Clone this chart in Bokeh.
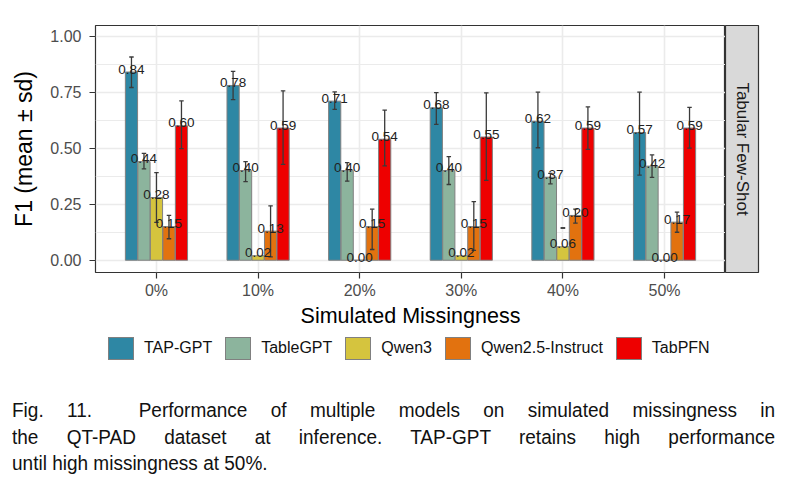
import math
from bokeh.plotting import figure
from bokeh.models import (ColumnDataSource, Range1d, FixedTicker, PrintfTickFormatter, Div)
from bokeh.layouts import column, row
from bokeh.core.properties import value
from bokeh.embed import file_html
from bokeh.resources import INLINE

# ---------------- data ----------------
missingness = ["0%", "10%", "20%", "30%", "40%", "50%"]
models = ["TAP-GPT", "TableGPT", "Qwen3", "Qwen2.5-Instruct", "TabPFN"]

tap_gpt = [0.84, 0.78, 0.71, 0.68, 0.62, 0.57]
table_gpt = [0.44, 0.40, 0.40, 0.40, 0.37, 0.42]
qwen3 = [0.28, 0.02, 0.00, 0.02, 0.06, 0.00]
qwen25 = [0.15, 0.13, 0.15, 0.15, 0.20, 0.17]
tabpfn = [0.60, 0.59, 0.54, 0.55, 0.59, 0.59]

tap_gpt_lo = [0.771, 0.717, 0.673, 0.606, 0.502, 0.380]
tap_gpt_hi = [0.907, 0.843, 0.751, 0.748, 0.750, 0.750]
table_gpt_lo = [0.408, 0.351, 0.353, 0.338, 0.341, 0.370]
table_gpt_hi = [0.477, 0.440, 0.436, 0.462, 0.388, 0.470]
qwen3_lo = [0.169, None, None, None, 0.144, None]
qwen3_hi = [0.391, None, None, None, 0.144, None]
qwen25_lo = [0.096, 0.015, 0.048, 0.044, 0.166, 0.125]
qwen25_hi = [0.200, 0.243, 0.228, 0.262, 0.228, 0.215]
tabpfn_lo = [0.498, 0.428, 0.421, 0.356, 0.495, 0.500]
tabpfn_hi = [0.711, 0.756, 0.670, 0.747, 0.684, 0.682]

y_ticks = [0.00, 0.25, 0.50, 0.75, 1.00]
y_minor = [0.125, 0.375, 0.625, 0.875]
strip_label = "Tabular Few-Shot"
x_title = "Simulated Missingness"
y_title = "F1 (mean \u00b1 sd)"
caption_lines = [
    "Fig. 11.&nbsp; Performance of multiple models on simulated missingness in",
    "the QT-PAD dataset at inference. TAP-GPT retains high performance",
    "until high missingness at 50%.",
]

colors = ["#2E87A4", "#8CB49D", "#D5C43E", "#E2720F", "#EE0000"]
means = [tap_gpt, table_gpt, qwen3, qwen25, tabpfn]
lows = [tap_gpt_lo, table_gpt_lo, qwen3_lo, qwen25_lo, tabpfn_lo]
highs = [tap_gpt_hi, table_gpt_hi, qwen3_hi, qwen25_hi, tabpfn_hi]

FONT = "Liberation Sans"

# ---------------- main panel ----------------
n = len(missingness)
y_start, y_end = -0.0547, 1.0476
H = 330
TOP, BOTTOM = 25, 57

p = figure(width=725, height=H,
           min_border_left=95, min_border_right=0, min_border_top=TOP, min_border_bottom=BOTTOM,
           x_range=Range1d(-0.6, n - 1 + 0.6), y_range=Range1d(y_start, y_end),
           output_backend="svg", toolbar_location=None)
p.background_fill_color = "white"
p.border_fill_color = "white"
p.outline_line_color = "#333333"
p.outline_line_width = 1.2

p.xgrid.grid_line_color = "#EBEBEB"
p.xgrid.grid_line_width = 1.6
p.ygrid.grid_line_color = "#EBEBEB"
p.ygrid.grid_line_width = 1.6
p.ygrid.minor_grid_line_color = "#EBEBEB"
p.ygrid.minor_grid_line_width = 1.0

idx = list(range(n))
p.xaxis.ticker = FixedTicker(ticks=idx)
p.xaxis.major_label_overrides = {i: lab for i, lab in zip(idx, missingness)}
p.yaxis.ticker = FixedTicker(ticks=y_ticks, minor_ticks=y_minor)
p.yaxis.formatter = PrintfTickFormatter(format="%.2f")
p.xaxis.axis_label = x_title
p.yaxis.axis_label = y_title
for ax in (p.xaxis[0], p.yaxis[0]):
    ax.axis_line_color = None
    ax.major_tick_line_color = "#333333"
    ax.major_tick_line_width = 1.2
    ax.major_tick_out = 6
    ax.major_tick_in = 0
    ax.minor_tick_line_color = None
    ax.major_label_text_font = FONT
    ax.major_label_text_font_size = "16px"
    ax.major_label_text_color = "#4D4D4D"
    ax.axis_label_text_font = FONT
    ax.axis_label_text_font_style = "normal"
    ax.axis_label_text_color = "#000000"
p.xaxis.axis_label_text_font_size = "21.5px"
p.yaxis.axis_label_text_font_size = "23px"
p.xaxis.major_label_standoff = 3
p.yaxis.major_label_standoff = 8
p.xaxis.axis_label_standoff = 2
p.yaxis.axis_label_standoff = 10

step = 0.123
bar_w = 0.12
cap_half = 0.022
bar_sources = []
err_sources = []
for k, (name, col, m, lo, hi) in enumerate(zip(models, colors, means, lows, highs)):
    off = (k - 2) * step
    xs = [i + off for i in idx]
    src = ColumnDataSource(dict(x=xs, top=m, lab=["%.2f" % v for v in m]))
    p.vbar(x="x", top="top", bottom=0, width=bar_w, source=src,
           fill_color=col, line_color="#808080", line_width=1)
    bar_sources.append(src)
    ex = [x for x, a in zip(xs, lo) if a is not None]
    el = [a for a in lo if a is not None]
    eh = [b for b in hi if b is not None]
    err_sources.append(ColumnDataSource(dict(
        x=ex, lower=el, upper=eh,
        xl=[x - cap_half for x in ex], xr=[x + cap_half for x in ex])))

for es in err_sources:
    kw = dict(source=es, line_color="#3A3A3A", line_width=1.3)
    p.segment(x0="x", y0="lower", x1="x", y1="upper", **kw)
    p.segment(x0="xl", y0="upper", x1="xr", y1="upper", **kw)
    p.segment(x0="xl", y0="lower", x1="xr", y1="lower", **kw)

for src in bar_sources:
    p.text(x="x", y="top", text="lab", source=src, y_offset=-3,
           text_align="center", text_baseline="alphabetic",
           text_font=value(FONT), text_font_size="13.5px", text_color="#222222")

# ---------------- facet strip ----------------
s = figure(width=60, height=H, min_border_left=0, min_border_right=27,
           min_border_top=TOP, min_border_bottom=BOTTOM,
           x_range=Range1d(0, 1), y_range=Range1d(0, 1),
           x_axis_type=None, y_axis_type=None,
           output_backend="svg", toolbar_location=None)
s.grid.visible = False
s.background_fill_color = "#D9D9D9"
s.border_fill_color = "white"
s.outline_line_color = "#333333"
s.outline_line_width = 1.2
s.text(x=[0.5], y=[0.5], text=[strip_label], angle=-math.pi / 2,
       text_align="center", text_baseline="middle",
       text_font=value(FONT), text_font_size="17px", text_color="#1A1A1A")

# ---------------- legend (HTML row under the axis title) ----------------
items_html = ""
for k, (name, col) in enumerate(zip(models, colors)):
    gap = "0" if k == 0 else "13px"
    items_html += ("<div style='display:flex; align-items:center; margin-left:%s;'>"
                   "<div style='width:26px; height:23px; background:%s; border:1px solid #808080;'></div>"
                   "<span style='margin-left:10px;'>%s</span></div>" % (gap, col, name))
legend_html = ("<div style=\"display:flex; align-items:center; padding-left:103px; padding-top:2px; "
               "font-family: 'Liberation Sans', Arial, sans-serif; font-size:16px; color:#111; "
               "white-space:nowrap;\">" + items_html + "</div>")
leg = Div(text=legend_html, width=785, height=40)

# ---------------- caption ----------------
squeeze = 0.95
line_style = "text-align: justify; text-align-last: justify;"
html = ("<div style='width: 785px; overflow: hidden;'>"
        "<div style=\"font-family: 'Liberation Sans', Arial, sans-serif; font-size: 20px; "
        "line-height: 26.5px; color: #111; width: %.1fpx; margin-left: 7px; padding-top: 12px; "
        "transform: scaleX(%.2f); transform-origin: 0 0;\">" % (763 / squeeze, squeeze)
        + "<div style='%s'>%s</div>" % (line_style, caption_lines[0])
        + "<div style='%s'>%s</div>" % (line_style, caption_lines[1])
        + "<div style='text-align: left;'>%s</div>" % caption_lines[2]
        + "</div></div>")
cap = Div(text=html, width=785, height=494 - H - 40)

layout = column(row(p, s, spacing=0), leg, cap, spacing=0)
open("out.html", "w").write(file_html(layout, INLINE))
